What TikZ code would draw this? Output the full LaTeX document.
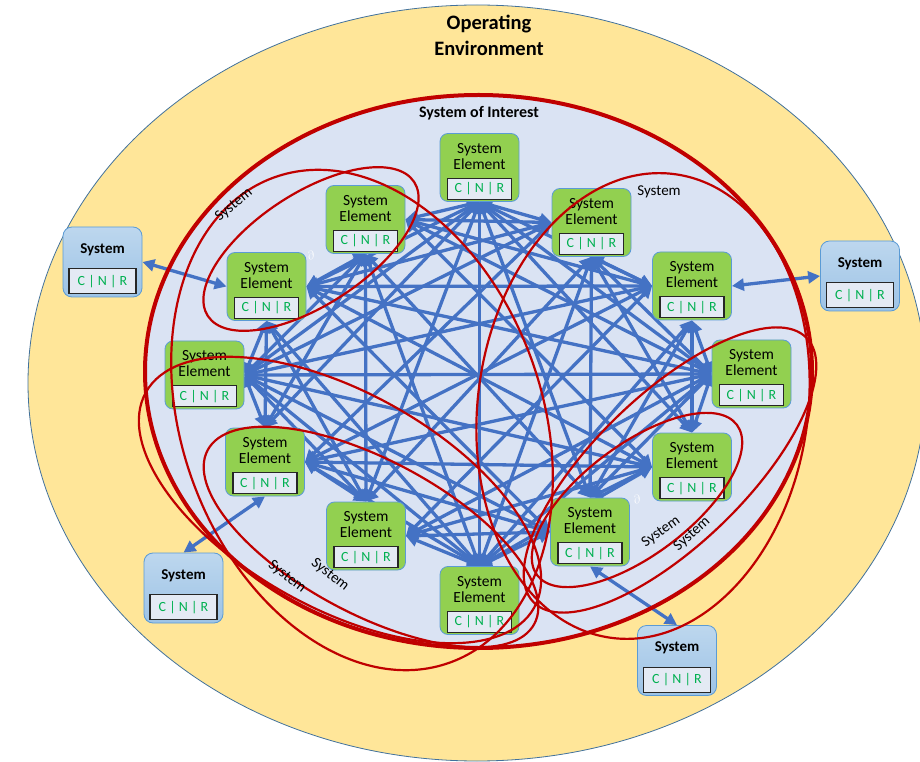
\documentclass[tikz,border=0pt]{standalone}
\usepackage{fontspec}
\setmainfont{Carlito}
\usetikzlibrary{arrows.meta,shapes,positioning}

\definecolor{envfill}{HTML}{FFE699}
\definecolor{envline}{HTML}{41719C}
\definecolor{soifill}{HTML}{DAE3F3}
\definecolor{sysred}{HTML}{C00000}
\definecolor{linkblue}{HTML}{4472C4}
\definecolor{elgreen}{HTML}{92D050}
\definecolor{elline}{HTML}{5B9BD5}
\definecolor{cnrgreen}{HTML}{00B050}
\definecolor{cnrfill}{HTML}{E4EAF4}
\definecolor{extop}{HTML}{BDD7EE}
\definecolor{exbot}{HTML}{9DC3E6}

\pgfdeclarelayer{back}
\pgfdeclarelayer{links}
\pgfsetlayers{back,links,main}

% element centres and the sides their interfaces leave from
\def\elx{{479.5,365.5,591.5,266.5,692,204.5,751.5,265,692,366,590,479.5}}
\def\ely{{593.5,541.5,538.5,474.5,475,386,387,299,294,225,229,160.5}}
\def\elh{{0,1,-1,1,-1,1,-1,1,-1,1,-1,0}}
\def\elv{{-1,-1,-1,-1,-1,0,0,1,1,1,1,1}}

\begin{document}
\begin{tikzpicture}[x=1pt, y=1pt,
  elem/.style={draw=elline, line width=0.8pt, fill=elgreen, rounded corners=8pt,
    minimum width=79pt, minimum height=68pt, inner sep=0pt},
  eltxt/.style={align=center, font=\fontsize{15.5}{16}\selectfont, inner sep=0pt},
  cnr/.style={draw=black!85, line width=1.1pt, fill=cnrfill, minimum width=64pt,
    minimum height=21pt, inner sep=0pt, text=cnrgreen, font=\fontsize{14}{14}\selectfont},
  extsys/.style={draw=elline, line width=0.8pt, top color=extop, bottom color=exbot,
    rounded corners=9pt, minimum width=79pt, minimum height=70pt, inner sep=0pt},
  extxt/.style={font=\bfseries\fontsize{15}{15}\selectfont, inner sep=0pt},
  excnr/.style={cnr, minimum width=67pt, minimum height=25pt},
  link/.style={draw=linkblue, line width=3.3pt,
    arrows={Triangle[length=12pt,width=12pt]-Triangle[length=12pt,width=12pt]}},
  grp/.style={draw=sysred, line width=2.2pt},
  grplabel/.style={font=\fontsize{15}{15}\selectfont, inner sep=0pt}]

\useasboundingbox (0,0) rectangle (920,761);

% environment and system of interest
\begin{pgfonlayer}{back}
\draw [fill=envfill, draw=envline, line width=0.8pt] (477,378) ellipse [x radius=449, y radius=378];
\fill [soifill] (478.5,389.5) ellipse [x radius=333.5, y radius=276.5];
\end{pgfonlayer}

\node[font=\bfseries\fontsize{20.5}{26}\selectfont, align=center] (env) at (489,726) {Operating\\Environment};
\node[font=\bfseries\fontsize{16}{16}\selectfont] (soi) at (479,648) {System of Interest};

% system elements
\foreach \n in {1,...,12}{
  \pgfmathsetmacro\px{\elx[\n-1]}
  \pgfmathsetmacro\py{\ely[\n-1]}
  \node[elem] (e\n) at (\px,\py) {};
  \node[eltxt] (e\n t) at ([yshift=-23pt]e\n.north) {System\\Element};
  \node[cnr] (e\n c) at ([yshift=13pt]e\n.south) {C | N | R};
}

% external systems
\foreach \n/\px/\py in {1/102.5/499, 2/860/485, 3/183.5/173, 4/677/100.5}{
  \node[extsys] (s\n) at (\px,\py) {};
  \node[extxt] (s\n t) at ([yshift=-23pt]s\n.north) {System};
  \node[excnr] (s\n c) at ([yshift=16pt]s\n.south) {C | N | R};
}

% interfaces
\begin{pgfonlayer}{links}
\foreach \i in {1,...,11}{
  \pgfmathtruncatemacro\k{\i+1}
  \foreach \j in {\k,...,12}{
    \pgfmathsetmacro\ddx{\elx[\j-1]-\elx[\i-1]}
    \pgfmathsetmacro\ddy{\ely[\j-1]-\ely[\i-1]}
    \pgfmathsetmacro\ph{\elh[\i-1]}
    \pgfmathsetmacro\pv{\elv[\i-1]}
    \pgfmathsetmacro\qh{\elh[\j-1]}
    \pgfmathsetmacro\qv{\elv[\j-1]}
    \pgfmathsetmacro\sa{\ph==0 ? -1000 : \ddx*\ph/39.5}
    \pgfmathsetmacro\sb{\pv==0 ? -1000 : \ddy*\pv/34}
    \pgfmathsetmacro\sc{\qh==0 ? -1000 : (\elx[\i-1]-\elx[\j-1])*\qh/39.5}
    \pgfmathsetmacro\sd{\qv==0 ? -1000 : (\ely[\i-1]-\ely[\j-1])*\qv/34}
    \pgfmathtruncatemacro\ai{\sa>\sb ? (\ph>0 ? 0 : 180) : (\pv>0 ? 90 : 270)}
    \pgfmathtruncatemacro\aj{\sc>\sd ? (\qh>0 ? 0 : 180) : (\qv>0 ? 90 : 270)}
    \draw [link] (e\i.\ai) -- (e\j.\aj);
  }
}
\draw [link] (e4.west) -- (s1.east);
\draw [link] (e5.east) -- (s2.west);
\draw [link] (e8.south) -- (s3.north);
\draw [link] (e11.south) -- (s4.north);
\end{pgfonlayer}

% system boundaries
\draw [sysred, line width=4pt] (478.5,389.5) ellipse [x radius=333.5, y radius=276.5];
\draw [grp, rotate around={33:(311,512)}] (311,512) ellipse [x radius=123, y radius=56];
\draw [grp, rotate around={-70:(362,341)}] (362,341) ellipse [x radius=258, y radius=180];
\draw [grp, rotate around={-29:(340,261)}] (340,261) ellipse [x radius=222, y radius=108];
\draw [grp, rotate around={-28:(371,224)}] (371,224) ellipse [x radius=185, y radius=77];
\draw [grp, rotate around={-8:(643,355)}] (643,355) ellipse [x radius=165, y radius=234];
\draw [grp, rotate around={37:(637,261)}] (637,261) ellipse [x radius=125, y radius=55];
\draw [grp, rotate around={44:(670,291)}] (670,291) ellipse [x radius=190, y radius=75];

\node[grplabel, rotate=40] (l1) at (234,556) {System};
\node[grplabel] (l2) at (659,569) {System};
\node[grplabel, rotate=-38] (l3) at (287,184) {System};
\node[grplabel, rotate=-38] (l4) at (330,186) {System};
\node[grplabel, rotate=36] (l5) at (661,229) {System};
\node[grplabel, rotate=42] (l6) at (692,227) {System};

\node[text=white, font=\fontsize{12}{12}\selectfont, rotate=20] (d1) at (311,506) {$\partial$};
\node[text=white, font=\fontsize{12}{12}\selectfont, rotate=20] (d2) at (637,262) {$\partial$};

\end{tikzpicture}
\end{document}
